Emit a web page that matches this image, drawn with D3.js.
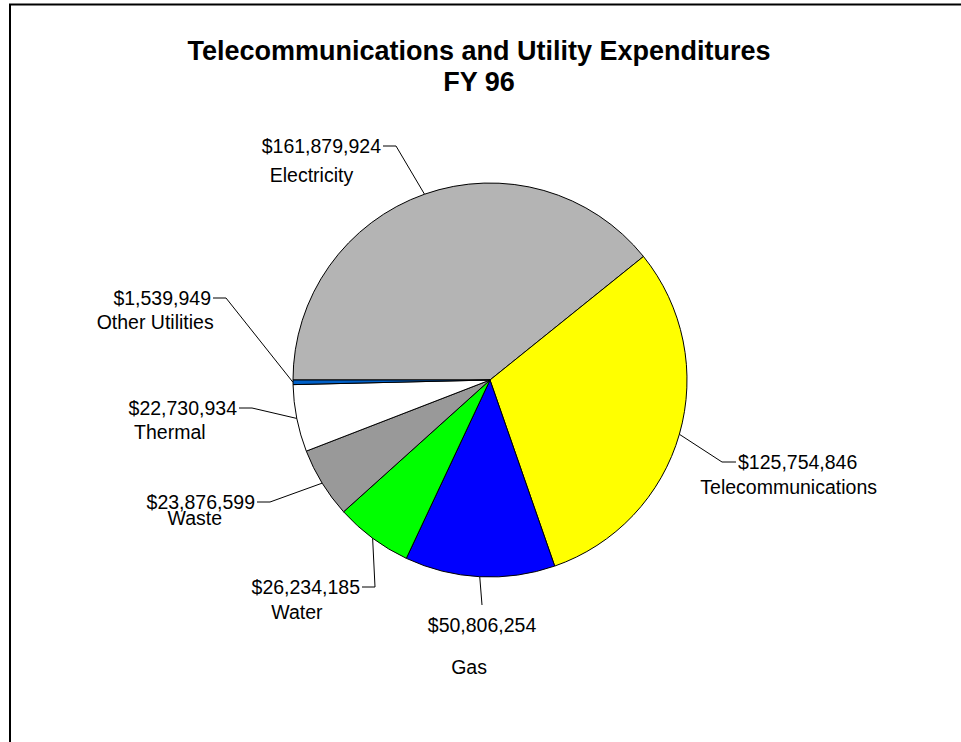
<!DOCTYPE html>
<html>
<head>
<meta charset="utf-8">
<script src="https://cdn.jsdelivr.net/npm/d3@7/dist/d3.min.js"></script>
<style>
  html, body { margin: 0; padding: 0; background: #fff; }
  svg { display: block; font-family: "Liberation Sans", Arial, sans-serif; }
</style>
</head>
<body>
<svg id="chart" width="961" height="742"></svg>
<script>
// FY 96 expenditures by category (dollars)
const categories = ["Electricity", "Telecommunications", "Gas", "Water", "Waste", "Thermal", "Other Utilities"];
const expenditures = [161879924, 125754846, 50806254, 26234185, 23876599, 22730934, 1539949];
const titleLines = ["Telecommunications and Utility Expenditures", "FY 96"];

// slice fills, same order as categories
const sliceColors = ["#b4b4b4", "#ffff00", "#0000ff", "#00ff00", "#999999", "#ffffff", "#0060c8"];

// label placement: elbow of the leader relative to the pie centre,
// which side the value text sits on, and the name offset below the value
const labelLayout = [
  { ex: -94,  ey: -234, side: "left",  ndx: -10, ndy: 29 },
  { ex: 232,  ey: 82,   side: "right", ndx: -9,  ndy: 25 },
  { ex: -8,   ey: 225,  side: "below", ndx: -13, ndy: 42 },
  { ex: -115, ey: 207,  side: "left",  ndx: -9,  ndy: 25 },
  { ex: -220, ey: 122,  side: "left",  ndx: -6,  ndy: 16 },
  { ex: -238, ey: 28,   side: "left",  ndx: -13, ndy: 24 },
  { ex: -264, ey: -82,  side: "left",  ndx: -7,  ndy: 24 }
];

const svg = d3.select("#chart");
const cx = 490, cy = 380, radius = 197;
const labelSize = 19.5;

// outer frame
svg.append("rect")
  .attr("x", 10).attr("y", 4.5)
  .attr("width", 1000).attr("height", 800)
  .attr("fill", "none").attr("stroke", "#000").attr("stroke-width", 2);

// title
svg.append("g").selectAll("text")
  .data(titleLines)
  .join("text")
  .attr("x", 479)
  .attr("y", (d, i) => 60 + i * 31)
  .attr("text-anchor", "middle")
  .attr("font-weight", "bold")
  .attr("font-size", 27)
  .attr("fill", "#000")
  .text(d => d);

const rows = categories.map((c, i) => ({ name: c, value: expenditures[i], color: sliceColors[i], layout: labelLayout[i] }));

const pie = d3.pie()
  .value(d => d.value)
  .sort(null)
  .startAngle(-Math.PI / 2)
  .endAngle(3 * Math.PI / 2);

const arc = d3.arc().innerRadius(0).outerRadius(radius);
const arcs = pie(rows);

const g = svg.append("g").attr("transform", `translate(${cx},${cy})`);

g.selectAll("path.slice")
  .data(arcs)
  .join("path")
  .attr("class", "slice")
  .attr("d", arc)
  .attr("fill", d => d.data.color)
  .attr("stroke", "#000")
  .attr("stroke-width", 1)
  .attr("stroke-linejoin", "round");

const fmt = d3.format("$,");

// leaders and labels
arcs.forEach(a => {
  const L = a.data.layout;
  const mid = (a.startAngle + a.endAngle) / 2;
  const rim = [radius * Math.sin(mid), -radius * Math.cos(mid)];
  const elbow = [L.ex, L.ey];
  const pts = [rim, elbow];
  let tx, ty, anchor;
  if (L.side === "left") {
    pts.push([L.ex - 13, L.ey]);
    tx = L.ex - 15; ty = L.ey; anchor = "end";
  } else if (L.side === "right") {
    pts.push([L.ex + 14, L.ey]);
    tx = L.ex + 16; ty = L.ey; anchor = "start";
  } else {
    tx = L.ex; ty = L.ey + 20; anchor = "middle";
  }
  g.append("path")
    .attr("d", d3.line()(pts))
    .attr("fill", "none")
    .attr("stroke", "#000")
    .attr("stroke-width", 1);

  const val = g.append("text")
    .attr("x", tx)
    .attr("y", ty)
    .attr("dy", "0.35em")
    .attr("text-anchor", anchor)
    .attr("font-size", labelSize)
    .attr("fill", "#000")
    .text(fmt(a.data.value));

  const bb = val.node().getBBox();
  const vc = bb.x + bb.width / 2;
  g.append("text")
    .attr("x", vc + L.ndx)
    .attr("y", ty + L.ndy)
    .attr("dy", "0.35em")
    .attr("text-anchor", "middle")
    .attr("font-size", labelSize)
    .attr("fill", "#000")
    .text(a.data.name);
});
</script>
</body>
</html>
